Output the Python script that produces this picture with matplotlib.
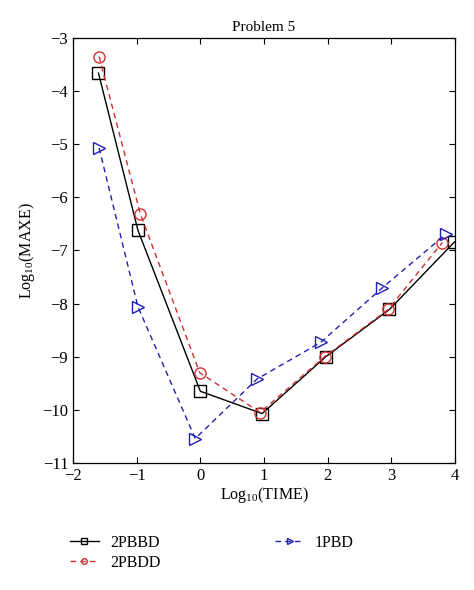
import matplotlib
matplotlib.use("Agg")
import matplotlib.pyplot as plt

plt.rcParams['font.family'] = ['Liberation Serif', 'DejaVu Serif']
plt.rcParams['mathtext.fontset'] = 'custom'
plt.rcParams['mathtext.rm'] = 'Liberation Serif'

x_2pbbd = [-1.60, -0.98, 0.00, 0.97, 1.97, 2.97, 3.99]
y_2pbbd = [-3.66, -6.62, -9.65, -10.07, -9.00, -8.11, -6.84]
x_2pbdd = [-1.59, -0.94, -0.01, 0.94, 1.95, 2.95, 3.80]
y_2pbdd = [-3.35, -6.32, -9.30, -10.05, -9.00, -8.11, -6.85]
x_1pbd = [-1.59, -0.98, -0.08, 0.89, 1.89, 2.86, 3.86]
y_1pbd = [-5.07, -8.06, -10.54, -9.42, -8.73, -7.70, -6.69]

xticks = [-2, -1, 0, 1, 2, 3, 4]
yticks = [-11, -10, -9, -8, -7, -6, -5, -4, -3]

fig = plt.figure(figsize=(4.74, 5.90), dpi=100)
ax = fig.add_axes([0.154, 0.2153, 0.806, 0.7203])

l1, = ax.plot(x_2pbbd, y_2pbbd, '-', color='black', lw=1.0, marker='s', ms=8,
              mfc='none', mec='black', mew=1.0, label='2PBBD')
l2, = ax.plot(x_2pbdd, y_2pbdd, '--', color='#d03030', lw=1.0, marker='o', ms=8,
              mfc='none', mec='#d03030', mew=1.0, label='2PBDD', dashes=(4, 3))
l3, = ax.plot(x_1pbd, y_1pbd, '--', color='#2020b0', lw=1.0, marker='>', ms=9,
              mfc='none', mec='#2020b0', mew=1.0, label='1PBD', dashes=(4, 3))

ax.set_xlim(-2, 4)
ax.set_ylim(-11, -3)
ax.set_xticks(xticks)
ax.set_yticks(yticks)
ax.set_xticklabels([f"{t}".replace('-', '\u2212') for t in xticks])
ax.set_yticklabels([f"{t}".replace('-', '\u2212') for t in yticks])
ax.tick_params(direction='in', top=True, right=True, labelsize=12, length=4, width=0.8)
for s in ax.spines.values():
    s.set_linewidth(0.9)

ax.set_title('Problem 5', fontsize=11, pad=5)
ax.set_xlabel(r'Log$_{10}$(TIME)', fontsize=11.5, labelpad=1)
ax.set_ylabel(r'Log$_{10}$(MAXE)', fontsize=11.5, labelpad=4)

fig.legend(handles=[l1, l2, l3], loc='upper left', bbox_to_anchor=(0.117, 0.118),
           ncol=2, frameon=False, fontsize=11.5, handlelength=1.8, handletextpad=0.7,
           columnspacing=7.2, labelspacing=0.25, markerscale=0.5)

fig.savefig('out.png', dpi=100)
